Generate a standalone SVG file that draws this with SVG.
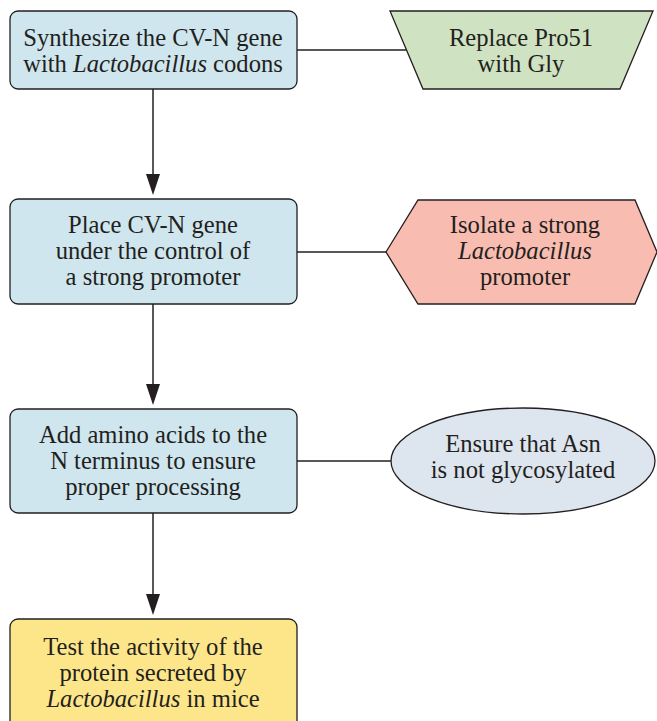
<svg xmlns="http://www.w3.org/2000/svg" width="657" height="721" viewBox="0 0 657 721">
<style>
.t{font-family:'Liberation Serif','Times New Roman',Times,serif;font-size:24.6px;fill:#231f20;text-anchor:middle}
.box{fill:#cfe6ee;stroke:#231f20;stroke-width:1.3}
.ln{stroke:#231f20;stroke-width:1.5;fill:none}
.ah{fill:#231f20}
</style>
<rect width="657" height="721" fill="#fff"/>
<g id="connectors">
<line class="ln" x1="297" y1="50" x2="406" y2="50"/>
<line class="ln" x1="297" y1="252" x2="386" y2="252"/>
<line class="ln" x1="297" y1="461" x2="392" y2="461"/>
<line class="ln" x1="153" y1="89" x2="153" y2="178"/>
<path class="ah" d="M146 174 L160 174 L153 195 Z"/>
<line class="ln" x1="153" y1="304" x2="153" y2="388"/>
<path class="ah" d="M146 384 L160 384 L153 405 Z"/>
<line class="ln" x1="153" y1="513" x2="153" y2="598"/>
<path class="ah" d="M146 594 L160 594 L153 615 Z"/>
</g>
<g id="n1">
<rect class="box" x="10" y="11" width="287" height="78" rx="8"/>
<text class="t" x="153" y="46">Synthesize the CV-N gene</text>
<text class="t" x="153" y="72">with <tspan font-style="italic">Lactobacillus</tspan> codons</text>
</g>
<g id="n2">
<polygon points="390,11 653,11 620,89 423,89" fill="#cfe3c2" stroke="#231f20" stroke-width="1.3"/>
<text class="t" x="521" y="46">Replace Pro51</text>
<text class="t" x="521" y="72">with Gly</text>
</g>
<g id="n3">
<rect class="box" x="10" y="199" width="287" height="105" rx="8"/>
<text class="t" x="153" y="233">Place CV-N gene</text>
<text class="t" x="153" y="259">under the control of</text>
<text class="t" x="153" y="285">a strong promoter</text>
</g>
<g id="n4">
<polygon points="386,252 418,200 635,200 657,252 635,304 418,304" fill="#f8bcb0" stroke="#231f20" stroke-width="1.3"/>
<text class="t" x="525" y="233">Isolate a strong</text>
<text class="t" x="525" y="259" font-style="italic">Lactobacillus</text>
<text class="t" x="525" y="285">promoter</text>
</g>
<g id="n5">
<rect class="box" x="10" y="409" width="287" height="104" rx="8"/>
<text class="t" x="153" y="443">Add amino acids to the</text>
<text class="t" x="153" y="469">N terminus to ensure</text>
<text class="t" x="153" y="495">proper processing</text>
</g>
<g id="n6">
<ellipse cx="523" cy="461" rx="132" ry="53" fill="#dde5ef" stroke="#231f20" stroke-width="1.3"/>
<text class="t" x="523" y="452">Ensure that Asn</text>
<text class="t" x="523" y="478">is not glycosylated</text>
</g>
<g id="n7">
<rect x="10" y="619" width="287" height="110" rx="8" fill="#fde68a" stroke="#231f20" stroke-width="1.3"/>
<text class="t" x="153" y="655">Test the activity of the</text>
<text class="t" x="153" y="681">protein secreted by</text>
<text class="t" x="153" y="707"><tspan font-style="italic">Lactobacillus</tspan> in mice</text>
</g>
</svg>
